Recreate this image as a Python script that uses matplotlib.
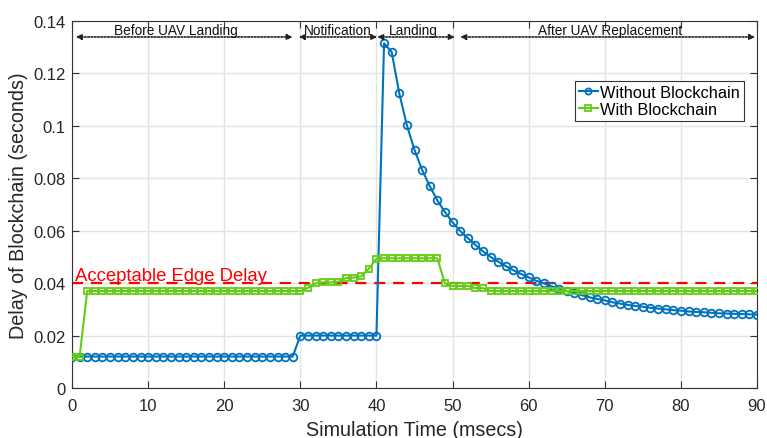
import matplotlib
matplotlib.use("Agg")
import matplotlib.pyplot as plt
from matplotlib.ticker import FuncFormatter

plt.rcParams["font.family"] = ["Liberation Sans", "DejaVu Sans"]

time_ms = list(range(0, 91))

without_bc = [
    0.012, 0.012, 0.012, 0.012, 0.012, 0.012, 0.012, 0.012, 0.012, 0.012,
    0.012, 0.012, 0.012, 0.012, 0.012, 0.012, 0.012, 0.012, 0.012, 0.012,
    0.012, 0.012, 0.012, 0.012, 0.012, 0.012, 0.012, 0.012, 0.012, 0.012,
    0.020, 0.020, 0.020, 0.020, 0.020, 0.020, 0.020, 0.020, 0.020, 0.020,
    0.020, 0.1315, 0.1282, 0.1124, 0.1002, 0.0908, 0.0832, 0.0770, 0.0716, 0.0671,
    0.0632, 0.0599, 0.0572, 0.0546, 0.0521, 0.0500, 0.0482, 0.0465, 0.0449, 0.0435,
    0.0422, 0.0409, 0.0399, 0.0388, 0.0379, 0.0370, 0.0363, 0.0354, 0.0346, 0.0340,
    0.0334, 0.0327, 0.0322, 0.0317, 0.0313, 0.0310, 0.0306, 0.0303, 0.0300, 0.0297,
    0.0295, 0.0292, 0.0290, 0.0289, 0.0287, 0.0285, 0.0284, 0.0283, 0.0282, 0.0281,
    0.0280,
]

with_bc = [
    0.012, 0.012, 0.037, 0.037, 0.037, 0.037, 0.037, 0.037, 0.037, 0.037,
    0.037, 0.037, 0.037, 0.037, 0.037, 0.037, 0.037, 0.037, 0.037, 0.037,
    0.037, 0.037, 0.037, 0.037, 0.037, 0.037, 0.037, 0.037, 0.037, 0.037,
    0.037, 0.0382, 0.0399, 0.0403, 0.0403, 0.0405, 0.0420, 0.0421, 0.0426, 0.0455,
    0.0493, 0.0495, 0.0495, 0.0495, 0.0495, 0.0495, 0.0495, 0.0495, 0.0495, 0.0399,
    0.0389, 0.0389, 0.0389, 0.0381, 0.0381, 0.037, 0.037, 0.037, 0.037, 0.037,
    0.037, 0.037, 0.037, 0.037, 0.037, 0.037, 0.037, 0.037, 0.037, 0.037,
    0.037, 0.037, 0.037, 0.037, 0.037, 0.037, 0.037, 0.037, 0.037, 0.037,
    0.037, 0.037, 0.037, 0.037, 0.037, 0.037, 0.037, 0.037, 0.037, 0.037,
    0.037,
]

edge_delay = 0.04

phase_names = ["Before UAV Landing", "Notification", "Landing", "After UAV Replacement"]
phase_spans = [(0.5, 29.0), (29.8, 40.1), (40.1, 50.3), (51.0, 89.75)]
phase_label_x = [13.6, 34.9, 44.8, 70.7]

blue = "#0072BD"
green = "#62CC14"

fig = plt.figure(figsize=(7.67, 4.39), dpi=100)
ax = fig.add_axes([72 / 767, 1 - 389 / 439, 685 / 767, 367 / 439])

ax.plot(time_ms, without_bc, color=blue, lw=1.5, marker="o", ms=5.5,
        mfc="none", mew=1.3, label="Without Blockchain", zorder=3)
ax.plot(time_ms, with_bc, color=green, lw=1.5, marker="s", ms=5,
        mfc="none", mew=1.3, label="With Blockchain", zorder=3)
ax.axhline(edge_delay, color="red", ls=(0, (5, 3.5)), lw=1.6, zorder=2)
ax.text(0.4, edge_delay + 0.0011, "Acceptable Edge Delay", color="red",
        fontsize=13.3, va="baseline", ha="left")

arrow_y = 0.1339
for name, (x0, x1), lx in zip(phase_names, phase_spans, phase_label_x):
    ax.annotate("", xy=(x1, arrow_y), xytext=(x0, arrow_y),
                arrowprops=dict(arrowstyle="<|-|>", linestyle=(0, (1, 1)),
                                color="#222222", lw=1.2, shrinkA=0, shrinkB=0,
                                mutation_scale=8))
    ax.text(lx, 0.1349, name, fontsize=9.8, ha="center", va="baseline",
            color="#111111")

ax.set_xlim(0, 90)
ax.set_ylim(0, 0.14)
ax.set_xticks(range(0, 91, 10))
ax.set_yticks([0, 0.02, 0.04, 0.06, 0.08, 0.1, 0.12, 0.14])
ax.yaxis.set_major_formatter(FuncFormatter(lambda v, p: f"{v:g}"))
ax.tick_params(direction="in", length=5, labelsize=12, top=True, right=True,
               colors="#333333", labelcolor="#262626")
ax.tick_params(axis="x", pad=7)
ax.tick_params(axis="y", pad=4.5)
ax.grid(True, color="#e3e3e3", lw=1)
ax.set_axisbelow(True)
for s in ax.spines.values():
    s.set_color("#333333")
    s.set_linewidth(0.8)

ax.set_xlabel("Simulation Time (msecs)", fontsize=14.2, labelpad=5, color="#262626")
ax.set_ylabel("Delay of Blockchain (seconds)", fontsize=14.2, labelpad=4, color="#262626")

leg = ax.legend(loc="upper right", bbox_to_anchor=(0.981, 0.8365), fontsize=11.8,
                handlelength=1.15, handletextpad=0.15, borderpad=0.25,
                labelspacing=0.1, fancybox=False, framealpha=1,
                edgecolor="#333333", borderaxespad=0, markerscale=0.8)
leg.get_frame().set_linewidth(0.8)

fig.savefig("out.png", dpi=100)
